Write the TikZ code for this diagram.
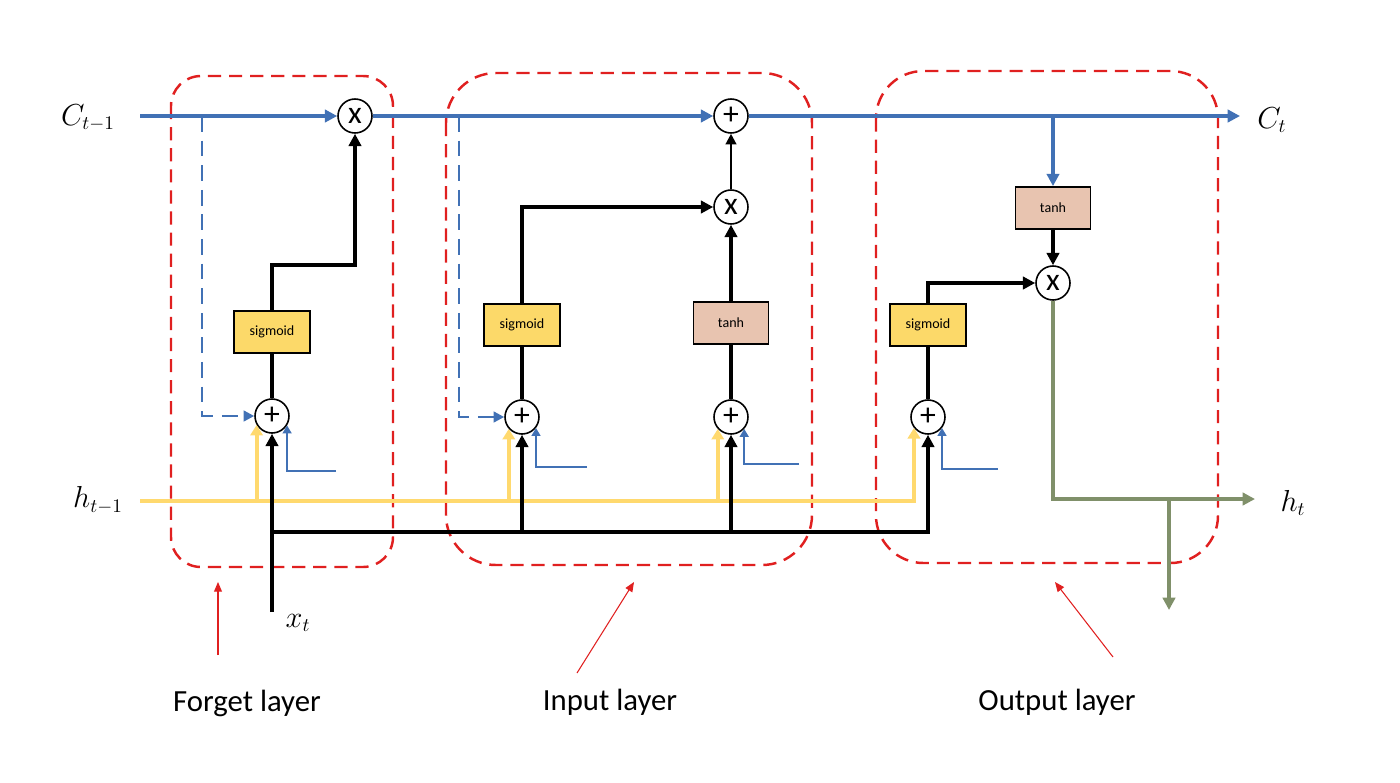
\documentclass[tikz,border=0pt]{standalone}
\usepackage[no-math]{fontspec}
\setmainfont{Carlito}
\usetikzlibrary{arrows.meta,calc}
\definecolor{cblue}{RGB}{65,113,181}
\definecolor{cyel}{RGB}{255,217,110}
\definecolor{sigfill}{RGB}{252,217,105}
\definecolor{tanhfill}{RGB}{232,196,176}
\definecolor{cgrn}{RGB}{128,144,106}
\definecolor{cred}{RGB}{224,32,32}
\begin{document}
\begin{tikzpicture}[x=0.02cm,y=-0.02cm,
  >={Triangle[length=7pt,width=7pt]},
  opc/.style={circle,draw,line width=0.9pt,minimum size=0.68cm,inner sep=0pt,fill=white,font=\fontsize{18}{18}\selectfont},
  sigbox/.style={draw,line width=1pt,fill=sigfill,minimum width=1.52cm,minimum height=0.84cm,inner sep=0pt,font=\fontsize{8}{9}\selectfont},
  tanhbox/.style={sigbox,fill=tanhfill,minimum width=1.5cm},
  mathlbl/.style={inner sep=0pt,font=\fontsize{16}{19}\selectfont},
  lbl/.style={inner sep=0pt,font=\fontsize{17.5}{20}\selectfont},
  layerbox/.style={draw=cred,line width=1.4pt,dash pattern=on 7.5pt off 4.5pt},
  bmain/.style={draw=cblue,line width=2pt},
  bdash/.style={draw=cblue,line width=1.4pt,dash pattern=on 9pt off 5pt,-{Triangle[length=6pt,width=6pt]}},
  bsmall/.style={draw=cblue,line width=1.1pt,-{Triangle[length=4.5pt,width=5pt]}},
  blk/.style={draw=black,line width=2.5pt},
  blkthin/.style={draw=black,line width=1.3pt,-{Triangle[length=6pt,width=6pt]}},
  yel/.style={draw=cyel,line width=2.3pt,-{Triangle[length=6pt,width=7pt]}},
  grn/.style={draw=cgrn,line width=2.3pt},
  redarr/.style={draw=cred,line width=0.6pt,-{Triangle[length=5.5pt,width=4.5pt]}}
]
\useasboundingbox (0,0) rectangle (1400,782);

% layer frames
\draw[layerbox,rounded corners=0.6cm] (171,76) rectangle (393,567);
\draw[layerbox,rounded corners=1cm] (446,73) rectangle (812,565);
\draw[layerbox,rounded corners=0.95cm] (876,71) rectangle (1218,563);

% operators
\node[opc] (fx) at (355,116) {x};
\node[opc] (cadd) at (731,116) {+};
\node[opc] (ix) at (731,207) {x};
\node[opc] (fp) at (272,416) {+};
\node[opc] (ip) at (522,417) {+};
\node[opc] (tp) at (731,417) {+};
\node[opc] (op) at (928,417) {+};
\node[opc] (ox) at (1053,283) {x};

% activation boxes
\node[sigbox] (fs) at (272,332) {sigmoid};
\node[sigbox] (is) at (522,325) {sigmoid};
\node[tanhbox] (ts) at (731,323) {tanh};
\node[sigbox] (os) at (928,325) {sigmoid};
\node[tanhbox] (ot) at (1053,208) {tanh};

% labels
\node[mathlbl] (ctm) at (88,118) {$C_{t-1}$};
\node[mathlbl] (ct) at (1272,120) {$C_t$};
\node[mathlbl] (htm) at (98,500) {$h_{t-1}$};
\node[mathlbl] (ht) at (1293,503) {$h_t$};
\node[mathlbl] (xtl) at (298,623) {$x_t$};
\node[lbl] (lf) at (247,703) {Forget layer};
\node[lbl] (li) at (610,702) {Input layer};
\node[lbl] (lo) at (1057,702) {Output layer};

% free ends
\coordinate (cin) at (140,116);
\coordinate (cout) at (1240,116);
\coordinate (hin) at (140,501);
\coordinate (xin) at (272,612);
\coordinate (bus) at (272,532);
\coordinate (hout) at (1255,499);
\coordinate (gsplit) at (1169,499);
\coordinate (gdown) at (1169,610);
\coordinate (fd) at (202,116);
\coordinate (id) at (459,116);
\coordinate (b1) at (336,471);
\coordinate (b2) at (587,467);
\coordinate (b3) at (799,464);
\coordinate (b4) at (998,469);
\coordinate (rf1) at (218,655);
\coordinate (rf2) at (218,582);
\coordinate (ri1) at (577,673);
\coordinate (ri2) at (634,582);
\coordinate (ro1) at (1113,657);
\coordinate (ro2) at (1055,582);

% cell state line
\draw[bmain,->] (cin) -- (fx.west);
\draw[bmain,->] (fx.east) -- (cadd.west);
\draw[bmain,->] (cadd.east) -- (cout);
\draw[bmain,->] (ot.north |- cadd.east) -- (ot.north);
\draw[bdash] (fd) |- (fp.west);
\draw[bdash] (id) |- (ip.west);

% h_{t-1} (yellow)
\draw[yel] (hin) -| (op.218);
\draw[yel] (fp.210 |- hin) -- (fp.210);
\draw[yel] (ip.222 |- hin) -- (ip.222);
\draw[yel] (tp.222 |- hin) -- (tp.222);

% x_t (black)
\draw[blk,->] (xin) -- (fp.south);
\draw[blk,->] (bus) -| (op.south);
\draw[blk,->] (ip.south |- bus) -- (ip.south);
\draw[blk,->] (tp.south |- bus) -- (tp.south);

% small blue inputs
\draw[bsmall] (b1) -| (fp.328);
\draw[bsmall] (b2) -| (ip.322);
\draw[bsmall] (b3) -| (tp.318);
\draw[bsmall] (b4) -| (op.322);

% gate paths
\draw[blk] (fp.north) -- (fs.south);
\draw[blk,->] (fs.north) -- ++(0,-45) -| (fx.south);
\draw[blk] (ip.north) -- (is.south);
\draw[blk,->] (is.north) |- (ix.west);
\draw[blk] (tp.north) -- (ts.south);
\draw[blk,->] (ts.north) -- (ix.south);
\draw[blkthin] (ix.north) -- (cadd.south);
\draw[blk] (op.north) -- (os.south);
\draw[blk,->] (os.north) |- (ox.west);
\draw[blk,->] (ot.south) -- (ox.north);

% output h_t (green)
\draw[grn,->] (ox.south) |- (hout);
\draw[grn,->] (gsplit) -- (gdown);

% red pointers
\draw[redarr] (rf1) -- (rf2);
\draw[redarr] (ri1) -- (ri2);
\draw[redarr] (ro1) -- (ro2);
\end{tikzpicture}
\end{document}
